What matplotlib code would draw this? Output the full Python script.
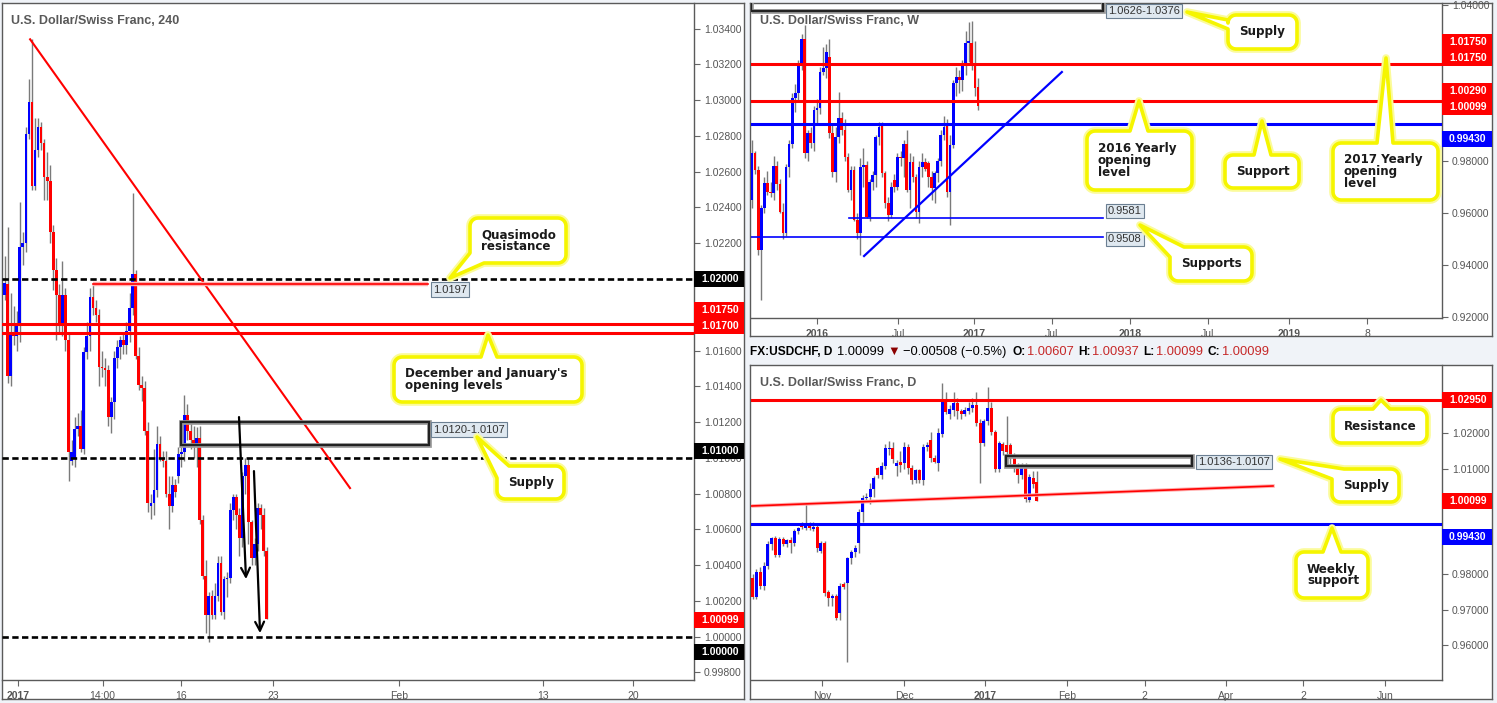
import numpy as np
import matplotlib
matplotlib.use("Agg")
import matplotlib.pyplot as plt
from matplotlib.patches import Rectangle, PathPatch
from matplotlib.path import Path
from matplotlib.transforms import blended_transform_factory as btf

plt.rcParams['font.family'] = ['Liberation Sans', 'DejaVu Sans']

# ---------------- DATA ----------------
# 4H candles (left panel)
h4_open = [1.0191, 1.0197, 1.0146, 1.0170, 1.0168, 1.0174, 1.0218, 1.0220, 1.0281, 1.0299,
           1.0252, 1.0272, 1.0285, 1.0276, 1.0257, 1.0255, 1.0226, 1.0205, 1.0191, 1.0175,
           1.0191, 1.0166, 1.0098, 1.0100, 1.0116, 1.0118, 1.0105, 1.0159, 1.0168, 1.0190,
           1.0184, 1.0180, 1.0151, 1.0150, 1.0149, 1.0123, 1.0131, 1.0156, 1.0162, 1.0166,
           1.0163, 1.0171, 1.0184, 1.0203, 1.0157, 1.0141, 1.0139, 1.0115, 1.0073, 1.0075,
           1.0082, 1.0108, 1.0100, 1.0098, 1.0080, 1.0073, 1.0085, 1.0090, 1.0102, 1.0103,
           1.0124, 1.0115, 1.0110, 1.0107, 1.0111, 1.0065, 1.0034, 1.0012, 1.0023, 1.0012,
           1.0023, 1.0041, 1.0014, 1.0032, 1.0033, 1.0071, 1.0078, 1.0068, 1.0055, 1.0090,
           1.0096, 1.0064, 1.0044, 1.0052, 1.0072, 1.0068, 1.0048]
h4_high = [1.0213, 1.0229, 1.0192, 1.0185, 1.0182, 1.0243, 1.0226, 1.0285, 1.0312, 1.0334,
           1.0290, 1.0290, 1.0288, 1.0278, 1.0271, 1.0264, 1.0230, 1.0212, 1.0197, 1.0210,
           1.0195, 1.0170, 1.0110, 1.0123, 1.0125, 1.0127, 1.0162, 1.0176, 1.0195, 1.0197,
           1.0188, 1.0183, 1.0160, 1.0156, 1.0152, 1.0134, 1.0160, 1.0166, 1.0168, 1.0170,
           1.0176, 1.0192, 1.0248, 1.0205, 1.0162, 1.0146, 1.0143, 1.0120, 1.0080, 1.0105,
           1.0118, 1.0112, 1.0104, 1.0104, 1.0090, 1.0090, 1.0088, 1.0106, 1.0106, 1.0135,
           1.0130, 1.0120, 1.0118, 1.0117, 1.0118, 1.0068, 1.0043, 1.0025, 1.0026, 1.0030,
           1.0045, 1.0045, 1.0034, 1.0036, 1.0075, 1.0080, 1.0080, 1.0072, 1.0092, 1.0100,
           1.0100, 1.0065, 1.0055, 1.0075, 1.0074, 1.0072, 1.0050]
h4_low = [1.0188, 1.0142, 1.0140, 1.0163, 1.0160, 1.0165, 1.0208, 1.0215, 1.0278, 1.0250,
          1.0250, 1.0268, 1.0272, 1.0244, 1.0244, 1.0220, 1.0194, 1.0166, 1.0170, 1.0168,
          1.0160, 1.0087, 1.0096, 1.0095, 1.0112, 1.0103, 1.0102, 1.0155, 1.0160, 1.0180,
          1.0176, 1.0140, 1.0145, 1.0140, 1.0118, 1.0114, 1.0122, 1.0150, 1.0155, 1.0158,
          1.0158, 1.0165, 1.0180, 1.0155, 1.0138, 1.0132, 1.0113, 1.0070, 1.0066, 1.0068,
          1.0078, 1.0098, 1.0095, 1.0078, 1.0060, 1.0070, 1.0078, 1.0086, 1.0095, 1.0098,
          1.0110, 1.0105, 1.0100, 1.0095, 1.0063, 1.0032, 1.0002, 0.9997, 1.0010, 1.0010,
          1.0020, 1.0012, 1.0010, 1.0022, 1.0030, 1.0065, 1.0060, 1.0045, 1.0050, 1.0080,
          1.0052, 1.0040, 1.0040, 1.0048, 1.0060, 1.0045, 1.00099]
h4_close = [1.0198, 1.0146, 1.0170, 1.0168, 1.0174, 1.0218, 1.0220, 1.0281, 1.0299, 1.0252,
            1.0272, 1.0285, 1.0276, 1.0257, 1.0255, 1.0226, 1.0205, 1.0191, 1.0175, 1.0191,
            1.0166, 1.0103, 1.0103, 1.0116, 1.0118, 1.0105, 1.0159, 1.0168, 1.0190, 1.0184,
            1.0180, 1.0151, 1.0150, 1.0149, 1.0123, 1.0131, 1.0156, 1.0162, 1.0166, 1.0163,
            1.0171, 1.0184, 1.0203, 1.0157, 1.0141, 1.0139, 1.0115, 1.0075, 1.0075, 1.0082,
            1.0108, 1.0100, 1.0098, 1.0080, 1.0073, 1.0085, 1.0081, 1.0102, 1.0103, 1.0124,
            1.0115, 1.0110, 1.0108, 1.0111, 1.0065, 1.0034, 1.0012, 1.0023, 1.0012, 1.0023,
            1.0041, 1.0014, 1.0032, 1.0033, 1.0071, 1.0078, 1.0068, 1.0055, 1.0090, 1.0096,
            1.0064, 1.0044, 1.0052, 1.0072, 1.0068, 1.0048, 1.00099]
h4_tick_pos = [4.4, 32.2, 57.9, 88.0, 129.5, 176.6, 206.1]
h4_tick_lbl = ["2017", "14:00", "16", "23", "Feb", "13", "20"]
h4_yticks = [0.998, 1.000, 1.002, 1.004, 1.006, 1.008, 1.010, 1.012, 1.014, 1.016, 1.018,
             1.020, 1.022, 1.024, 1.026, 1.028, 1.030, 1.032, 1.034]
h4_hidden_ticks = [1.018, 1.020]          # covered by the highlighted price tags
h4_dashed_levels = [1.0200, 1.0100, 1.0000]
h4_red_levels = [1.0175, 1.0170]
h4_price_labels = [("1.02000", 1.0200, "black"), ("1.01750", 1.01827, "#ff0000"),
                   ("1.01700", 1.01737, "#ff0000"), ("1.01000", 1.01038, "black"),
                   ("1.00099", 1.00093, "#ff0000"), ("1.00000", 0.99914, "black")]

# Weekly candles (top right)
w_open = [0.9650, 0.9829, 0.9765, 0.9458, 0.9618, 0.9717, 0.9682, 0.9676, 0.9782, 0.9710,
          0.9605, 0.9522, 0.9778, 0.9865, 1.0041, 1.0060, 1.0176, 1.0270, 0.9829, 0.9906,
          0.9868, 0.9996, 1.0003, 1.0144, 1.0156, 1.0201, 0.9906, 0.9759, 0.9894, 0.9964,
          0.9919, 0.9817, 0.9688, 0.9765, 0.9573, 0.9522, 0.9778, 0.9785, 0.9586, 0.9721,
          0.9746, 0.9894, 0.9938, 0.9753, 0.9637, 0.9592, 0.9727, 0.9701, 0.9817, 0.9810,
          0.9865, 0.9688, 0.9797, 0.9740, 0.9605, 0.9778, 0.9797, 0.9791, 0.9740, 0.9695,
          0.9753, 0.9800, 0.9900, 0.9938, 0.9682, 0.9860, 1.0099, 1.0124, 1.0112, 1.0169,
          1.0255, 1.0255, 1.0176, 1.0083]
w_high = [0.9880, 0.9840, 0.9780, 0.9630, 0.9740, 0.9760, 0.9720, 0.9820, 0.9800, 0.9730,
          0.9640, 0.9790, 0.9880, 1.0060, 1.0095, 1.0190, 1.0290, 1.0323, 0.9920, 0.9930,
          1.0010, 1.0040, 1.0160, 1.0240, 1.0250, 1.0270, 0.9940, 0.9930, 1.0065, 0.9990,
          0.9960, 0.9830, 0.9780, 0.9780, 0.9600, 0.9810, 0.9850, 0.9800, 0.9730, 0.9760,
          0.9900, 0.9951, 0.9950, 0.9760, 0.9660, 0.9720, 0.9750, 0.9830, 0.9840, 0.9880,
          0.9920, 0.9830, 0.9820, 0.9750, 0.9800, 0.9830, 0.9810, 0.9800, 0.9760, 0.9760,
          0.9810, 0.9920, 0.9975, 0.9960, 0.9900, 1.0110, 1.0160, 1.0150, 1.0190, 1.0300,
          1.0336, 1.0338, 1.0260, 1.0120]
w_low = [0.9620, 0.9750, 0.9440, 0.9265, 0.9600, 0.9670, 0.9660, 0.9650, 0.9690, 0.9600,
         0.9500, 0.9510, 0.9740, 0.9850, 0.9990, 1.0030, 1.0150, 0.9810, 0.9800, 0.9850,
         0.9840, 0.9940, 0.9980, 1.0130, 1.0120, 0.9890, 0.9740, 0.9720, 0.9870, 0.9900,
         0.9800, 0.9680, 0.9650, 0.9570, 0.9500, 0.9438, 0.9700, 0.9580, 0.9570, 0.9690,
         0.9700, 0.9860, 0.9740, 0.9620, 0.9570, 0.9580, 0.9680, 0.9690, 0.9780, 0.9740,
         0.9680, 0.9620, 0.9720, 0.9580, 0.9560, 0.9740, 0.9760, 0.9700, 0.9650, 0.9640,
         0.9720, 0.9780, 0.9880, 0.9660, 0.9554, 0.9850, 1.0050, 1.0060, 1.0070, 1.0130,
         1.0180, 1.0150, 1.0050, 0.9995]
w_close = [0.9829, 0.9765, 0.9458, 0.9618, 0.9717, 0.9682, 0.9676, 0.9782, 0.9710, 0.9605,
           0.9522, 0.9778, 0.9865, 1.0041, 1.0060, 1.0176, 1.0270, 0.9829, 0.9906, 0.9868,
           0.9996, 1.0003, 1.0144, 1.0156, 1.0221, 0.9906, 0.9759, 0.9894, 0.9964, 0.9919,
           0.9817, 0.9688, 0.9765, 0.9573, 0.9522, 0.9778, 0.9785, 0.9586, 0.9721, 0.9746,
           0.9894, 0.9932, 0.9753, 0.9637, 0.9592, 0.9701, 0.9701, 0.9817, 0.9810, 0.9865,
           0.9688, 0.9797, 0.9740, 0.9605, 0.9778, 0.9797, 0.9770, 0.9740, 0.9695, 0.9753,
           0.9800, 0.9900, 0.9932, 0.9682, 0.9860, 1.0099, 1.0124, 1.0112, 1.0169, 1.0255,
           1.0260, 1.0169, 1.0081, 1.0010]
w_tick_pos = [21.0, 47.2, 71.7, 96.9, 122.1, 147.3, 173.5, 198.7]
w_tick_lbl = ["2016", "Jul", "2017", "Jul", "2018", "Jul", "2019", "8"]
w_yticks = [0.92, 0.94, 0.96, 0.98, 1.00, 1.02, 1.04]
w_hidden_ticks = [1.00, 1.02]
w_red_levels = [1.0175, 1.0029]
w_blue_level = 0.9943
w_supports = [0.9581, 0.9508]
w_supply = (1.0376, 1.0626)
w_price_labels = [("1.01750", 1.02577, "#ff0000"), ("1.01750", 1.01962, "#ff0000"),
                  ("1.00290", 1.00692, "#ff0000"), ("1.00099", 1.00077, "#ff0000"),
                  ("0.99430", 0.98846, "#0000ff")]

# Daily candles (bottom right)
d_open = [0.9789, 0.9737, 0.9808, 0.9767, 0.9824, 0.9887, 0.9903, 0.9855, 0.9900, 0.9887,
          0.9898, 0.9888, 0.9923, 0.9945, 0.9933, 0.9945, 0.9930, 0.9934, 0.9868, 0.9890,
          0.9751, 0.9732, 0.9739, 0.9690, 0.9773, 0.9775, 0.9846, 0.9865, 0.9888, 0.9978,
          1.0016, 1.0019, 1.0043, 1.0101, 1.0082, 1.0108, 1.0156, 1.0158, 1.0108, 1.0120,
          1.0115, 1.0163, 1.0101, 1.0068, 1.0096, 1.0068, 1.0161, 1.0182, 1.0130, 1.0117,
          1.0199, 1.0297, 1.0255, 1.0267, 1.0287, 1.0265, 1.0255, 1.0265, 1.0271, 1.0280,
          1.0229, 1.0174, 1.0235, 1.0271, 1.0205, 1.0098, 1.0169, 1.0167, 1.0167, 1.0139,
          1.0108, 1.0081, 1.0108, 1.0011, 1.0075, 1.0061]
d_high = [0.9800, 0.9815, 0.9820, 0.9835, 0.9895, 0.9905, 0.9908, 0.9905, 0.9905, 0.9902,
          0.9905, 0.9930, 0.9935, 0.9950, 1.0002, 0.9950, 0.9948, 0.9940, 0.9895, 0.9895,
          0.9755, 0.9745, 0.9745, 0.9775, 0.9780, 0.9850, 0.9870, 0.9885, 0.9985, 1.0025,
          1.0030, 1.0060, 1.0080, 1.0105, 1.0120, 1.0170, 1.0180, 1.0175, 1.0125, 1.0150,
          1.0175, 1.0170, 1.0110, 1.0100, 1.0100, 1.0170, 1.0175, 1.0205, 1.0140, 1.0215,
          1.0342, 1.0319, 1.0280, 1.0319, 1.0300, 1.0270, 1.0275, 1.0290, 1.0300, 1.0319,
          1.0240, 1.0240, 1.0333, 1.0290, 1.0210, 1.0180, 1.0175, 1.0250, 1.0172, 1.0145,
          1.0115, 1.0115, 1.0115, 1.0085, 1.0095, 1.0094]
d_low = [0.9730, 0.9730, 0.9760, 0.9755, 0.9815, 0.9870, 0.9850, 0.9850, 0.9880, 0.9878,
         0.9860, 0.9880, 0.9915, 0.9930, 0.9925, 0.9925, 0.9922, 0.9865, 0.9860, 0.9740,
         0.9710, 0.9710, 0.9670, 0.9670, 0.9760, 0.9553, 0.9830, 0.9850, 0.9860, 0.9950,
         1.0005, 1.0000, 1.0020, 1.0075, 1.0070, 1.0100, 1.0140, 1.0115, 1.0080, 1.0090,
         1.0100, 1.0085, 1.0058, 1.0060, 1.0060, 1.0055, 1.0150, 1.0120, 1.0115, 1.0095,
         1.0190, 1.0255, 1.0240, 1.0250, 1.0240, 1.0240, 1.0250, 1.0255, 1.0260, 1.0220,
         1.0060, 1.0165, 1.0225, 1.0195, 1.0090, 1.0090, 1.0140, 1.0140, 1.0110, 1.0090,
         1.0060, 1.0070, 1.0005, 1.0005, 1.0045, 1.00099]
d_close = [0.9737, 0.9808, 0.9767, 0.9824, 0.9887, 0.9903, 0.9855, 0.9900, 0.9887, 0.9898,
           0.9888, 0.9923, 0.9931, 0.9934, 0.9945, 0.9931, 0.9934, 0.9874, 0.9890, 0.9748,
           0.9732, 0.9739, 0.9678, 0.9767, 0.9765, 0.9846, 0.9865, 0.9874, 0.9978, 1.0016,
           1.0021, 1.0043, 1.0073, 1.0082, 1.0108, 1.0158, 1.0158, 1.0127, 1.0117, 1.0111,
           1.0163, 1.0101, 1.0068, 1.0096, 1.0068, 1.0161, 1.0166, 1.0130, 1.0120, 1.0200,
           1.0297, 1.0262, 1.0269, 1.0287, 1.0265, 1.0255, 1.0267, 1.0273, 1.0280, 1.0229,
           1.0174, 1.0235, 1.0271, 1.0205, 1.0098, 1.0172, 1.0150, 1.0148, 1.0139, 1.0108,
           1.0082, 1.0108, 1.0013, 1.0076, 1.0057, 1.00099]
d_tick_pos = [18.3, 40.0, 61.4, 83.0, 103.4, 125.0, 145.3, 166.9]
d_tick_lbl = ["Nov", "Dec", "2017", "Feb", "2", "Apr", "2", "Jun"]
d_yticks = [0.96, 0.97, 0.98, 0.99, 1.00, 1.01, 1.02, 1.03]
d_hidden_ticks = [0.99, 1.00, 1.03]
d_resistance = 1.0295
d_support = 0.9943
d_supply = (1.0107, 1.0136)
d_price_labels = [("1.02950", 1.0295, "#ff0000"), ("1.00099", 1.00085, "#ff0000"),
                  ("0.99430", 0.99064, "#0000ff")]

header_parts = [("FX:USDCHF, D", "black", "bold", 5), ("1.00099", "black", "normal", 3),
                ("\u25BC", "#8b0000", "normal", 3), ("\u22120.00508 (\u22120.5%)", "black", "normal", 6),
                ("O:", "black", "bold", 1), ("1.00607", "#c62828", "normal", 5),
                ("H:", "black", "bold", 1), ("1.00937", "#c62828", "normal", 5),
                ("L:", "black", "bold", 1), ("1.00099", "#c62828", "normal", 5),
                ("C:", "black", "bold", 1), ("1.00099", "#c62828", "normal", 5)]

# ---------------- FIGURE ----------------
W, H = 1497, 703
BG = '#f0f3f8'
RED, BLUE = '#ff0000', '#0000ff'
fig = plt.figure(figsize=(W / 100, H / 100), dpi=100, facecolor=BG)


def px_axes(x0, y0, x1, y1, z):
    return fig.add_axes([x0 / W, 1 - y1 / H, (x1 - x0) / W, (y1 - y0) / H], zorder=z)


def frame(x0, y0, x1, y1):
    a = px_axes(x0, y0, x1, y1, 0)
    a.set_facecolor('white')
    a.set_xticks([]); a.set_yticks([])
    for s in a.spines.values():
        s.set_color('#5a5a5a'); s.set_linewidth(1.0)
    return a


def plot_axes(x0, y0, x1, y1, xlim, ylim, yticks, hidden, xticks, xlabels):
    a = px_axes(x0, y0, x1, y1, 1)
    a.patch.set_alpha(0)
    a.set_xlim(*xlim); a.set_ylim(*ylim)
    a.spines['top'].set_visible(False); a.spines['left'].set_visible(False)
    for s in ('right', 'bottom'):
        a.spines[s].set_color('#5a5a5a'); a.spines[s].set_linewidth(1.0)
    a.yaxis.tick_right()
    a.set_yticks(yticks)
    a.set_yticklabels(["" if any(abs(v - hv) < 1e-9 for hv in hidden) else "%.5f" % v
                       for v in yticks])
    a.set_xticks(xticks)
    a.set_xticklabels(xlabels)
    a.tick_params(axis='y', direction='out', length=4, width=0.8, color='#666666',
                  labelcolor='#555555', labelsize=7.5, pad=3)
    a.tick_params(axis='x', direction='out', length=4, width=0.8, color='#666666',
                  labelcolor='#555555', labelsize=7.5, pad=4)
    for t in a.get_xticklabels():
        if t.get_text().isdigit() and len(t.get_text()) == 4:
            t.set_fontweight('bold')
    a.wpx, a.hpx = x1 - x0, y1 - y0
    return a


def draw_candles(ax, o, h, l, c, width):
    o = np.asarray(o); c = np.asarray(c)
    h = np.maximum(np.asarray(h), np.maximum(o, c))
    l = np.minimum(np.asarray(l), np.minimum(o, c))
    x = np.arange(len(o))
    ylo, yhi = ax.get_ylim()
    dpp = (yhi - ylo) / ax.hpx
    ax.vlines(x, l, h, colors='#7a7a7a', linewidth=1.0, zorder=2)
    cols = np.where(c >= o, BLUE, RED)
    ax.bar(x, np.maximum(np.abs(c - o), 1.5 * dpp), bottom=np.minimum(o, c), width=width,
           color=cols, linewidth=0, zorder=3)


def price_label(ax, text, ypos, bg):
    ylo, yhi = ax.get_ylim()
    dpp = (yhi - ylo) / ax.hpx
    tr = btf(ax.transAxes, ax.transData)
    ax.add_patch(Rectangle((1.0, ypos - 8 * dpp), 50 / ax.wpx, 16 * dpp, transform=tr,
                           facecolor=bg, edgecolor='none', clip_on=False, zorder=6))
    ax.text(1.0 + 7 / ax.wpx, ypos, text, transform=tr, color='white', fontweight='bold',
            fontsize=7.5, va='center', ha='left', clip_on=False, zorder=7)


def level_tag(ax, x, y, text):
    ax.text(x, y, text, ha='left', va='center', fontsize=8, color='#333333', zorder=7,
            clip_on=False,
            bbox=dict(boxstyle='square,pad=0.2', fc='#dfe8f0', ec='#6b7f92', lw=0.8))


def supply_box(ax, x0, x1, y0, y1):
    ax.add_patch(Rectangle((x0, y0), x1 - x0, y1 - y0, fc='none', ec='#9a9a9a', lw=3.4, zorder=4))
    ax.add_patch(Rectangle((x0, y0), x1 - x0, y1 - y0, fc='none', ec='#222222', lw=1.6, zorder=4))


# ---- frames ----
frame(2, 3, 744, 699)
frame(750, 3, 1492, 336)
frame(750, 365, 1492, 699)

# ---- left 4H panel ----
axL = plot_axes(2, 3, 694, 680, (-0.82, 226.1), (0.99758, 1.03543), h4_yticks, h4_hidden_ticks,
                h4_tick_pos, h4_tick_lbl)
draw_candles(axL, h4_open, h4_high, h4_low, h4_close, 0.88)
for lv in h4_dashed_levels:
    axL.axhline(lv, color='black', lw=1.9, dashes=(2.4, 1.3), zorder=4)
for lv in h4_red_levels:
    axL.axhline(lv, color=RED, lw=2.2, zorder=4)
axL.plot([8.4, 113.3], [1.0334, 1.00831], color=RED, lw=1.5, zorder=4)
axL.plot([29.0, 138.9], [1.0197, 1.0197], color='#ffb0b0', lw=3.2, zorder=4, solid_capstyle='butt')
axL.plot([29.0, 138.9], [1.0197, 1.0197], color=RED, lw=1.2, zorder=4)
supply_box(axL, 57.9, 139.2, 1.0107, 1.0120)
level_tag(axL, 140.5, 1.01941, "1.0197")
level_tag(axL, 140.5, 1.01158, "1.0120-1.0107")
for (sx, sy, ex, ey) in [(76.9, 1.01228, 79.2, 1.00322), (81.8, 1.00926, 83.8, 1.00020)]:
    axL.annotate('', xy=(ex, ey), xytext=(sx, sy),
                 arrowprops=dict(arrowstyle='->', lw=1.6, color='black', mutation_scale=16,
                                 shrinkA=0, shrinkB=0), zorder=5)
for txt, yv, col in h4_price_labels:
    price_label(axL, txt, yv, col)

# ---- weekly panel ----
axW = plot_axes(751, 3, 1442, 318, (-0.32, 222.9), (0.91962, 1.04077), w_yticks, w_hidden_ticks,
                w_tick_pos, w_tick_lbl)
draw_candles(axW, w_open, w_high, w_low, w_close, 0.86)
for lv in w_red_levels:
    axW.axhline(lv, color=RED, lw=2.2, zorder=4)
axW.axhline(w_blue_level, color=BLUE, lw=2.2, zorder=4)
axW.plot([31.3, 113.4], [w_supports[0]] * 2, color=BLUE, lw=1.2, zorder=4)
axW.plot([-0.32, 113.4], [w_supports[1]] * 2, color=BLUE, lw=1.2, zorder=4)
axW.plot([36.2, 100.1], [0.94346, 1.01423], color=BLUE, lw=1.6, zorder=4)
supply_box(axW, -0.32, 113.4, w_supply[0], w_supply[1])
level_tag(axW, 115.0, 1.0376, "1.0626-1.0376")
level_tag(axW, 115.0, 0.9608, "0.9581")
level_tag(axW, 115.0, 0.9500, "0.9508")
for txt, yv, col in w_price_labels:
    price_label(axW, txt, yv, col)

# ---- daily panel ----
axD = plot_axes(751, 365, 1442, 680, (-0.45, 181.9), (0.95007, 1.03943), d_yticks, d_hidden_ticks,
                d_tick_pos, d_tick_lbl)
draw_candles(axD, d_open, d_high, d_low, d_close, 0.8)
axD.axhline(d_resistance, color=RED, lw=2.2, zorder=4)
axD.axhline(d_support, color=BLUE, lw=2.2, zorder=4)
axD.plot([-0.45, 137.3], [0.99943, 1.00511], color='#ffb0b0', lw=2.6, zorder=4)
axD.plot([-0.45, 137.3], [0.99943, 1.00511], color=RED, lw=1.2, zorder=4)
supply_box(axD, 66.8, 115.9, d_supply[0], d_supply[1])
level_tag(axD, 117.5, 1.01191, "1.0136-1.0107")
for txt, yv, col in d_price_labels:
    price_label(axD, txt, yv, col)

# ---- overlay: titles, header, callouts ----
ov = fig.add_axes([0, 0, 1, 1], zorder=10)
ov.set_xlim(0, W); ov.set_ylim(H, 0); ov.axis('off'); ov.patch.set_alpha(0)

for x, y, t in [(11, 21, "U.S. Dollar/Swiss Franc, 240"), (760, 21, "U.S. Dollar/Swiss Franc, W"),
                (760, 383, "U.S. Dollar/Swiss Franc, D")]:
    ov.text(x, y, t, fontsize=9, fontweight='bold', color='#595959', va='center', ha='left')

renderer = fig.canvas.get_renderer()
hx = 750
for txt, col, wt, gap in header_parts:
    fs = 8.6 if wt == 'bold' else 9.3
    t = ov.text(hx, 352, txt, color=col, fontweight=wt, fontsize=fs, va='center', ha='left')
    hx += t.get_window_extent(renderer).width + gap


def callout_path(x0, y0, x1, y1, side, base, tip, r=8, n=7):
    v = []

    def arc(cx, cy, a0, a1):
        for a in np.linspace(a0, a1, n):
            v.append((cx + r * np.cos(a), cy + r * np.sin(a)))
    if side == 'tl':
        v += [(x0, y0 + base[0]), tip, (x0 + base[1], y0)]
    else:
        arc(x0 + r, y0 + r, np.pi, 1.5 * np.pi)
    if side == 'top':
        v += [(base[0], y0), tip, (base[1], y0)]
    arc(x1 - r, y0 + r, 1.5 * np.pi, 2 * np.pi)
    arc(x1 - r, y1 - r, 0, 0.5 * np.pi)
    if side == 'bl':
        v += [(x0 + base[0], y1), tip, (x0, y1 - base[1])]
    else:
        arc(x0 + r, y1 - r, 0.5 * np.pi, np.pi)
    if side == 'left':
        v += [(x0, y0 + base[1]), tip, (x0, y0 + base[0])]
    v.append(v[0])
    codes = [Path.MOVETO] + [Path.LINETO] * (len(v) - 2) + [Path.CLOSEPOLY]
    return Path(v, codes)


callouts = [
    (470, 218, 566, 263, 'bl', (14, 10), (450, 278), "Quasimodo\nresistance"),
    (394, 357, 582, 402, 'top', (481, 497), (488, 335), "December and January's\nopening levels"),
    (497, 466, 564, 499, 'tl', (12, 12), (477, 437), "Supply"),
    (1228, 15, 1297, 49, 'left', (5, 14), (1187, 12), "Supply"),
    (1087, 131, 1192, 190, 'top', (1130, 1148), (1139, 101), "2016 Yearly\nopening\nlevel"),
    (1225, 155, 1299, 188, 'top', (1254, 1271), (1262, 121), "Support"),
    (1333, 143, 1438, 200, 'top', (1377, 1393), (1386, 58), "2017 Yearly\nopening\nlevel"),
    (1170, 247, 1252, 281, 'tl', (10, 14), (1140, 225), "Supports"),
    (1333, 409, 1427, 443, 'top', (1373, 1390), (1381, 400), "Resistance"),
    (1332, 469, 1399, 502, 'tl', (10, 12), (1280, 459), "Supply"),
    (1296, 552, 1368, 598, 'top', (1323, 1341), (1332, 528), "Weekly\nsupport"),
]
for x0, y0, x1, y1, side, base, tip, txt in callouts:
    p = callout_path(x0, y0, x1, y1, side, base, tip)
    ov.add_patch(PathPatch(p, fc='white', ec='#fbfb9a', lw=5.5, joinstyle='round', zorder=1))
    ov.add_patch(PathPatch(p, fc='white', ec='#f5f500', lw=2.6, joinstyle='round', zorder=2))
    ov.text(x0 + 11, (y0 + y1) / 2, txt, family='DejaVu Sans', fontweight='bold', fontsize=8.6,
            color='#1a1a1a', ha='left', va='center', linespacing=0.88, zorder=3)

fig.savefig('out.png', dpi=100, facecolor=BG)
